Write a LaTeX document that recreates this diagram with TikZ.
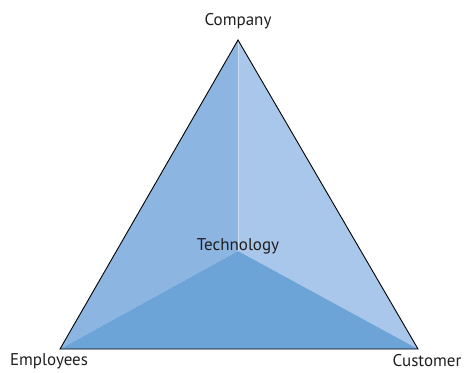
\documentclass[tikz,border=0pt]{standalone}
\usepackage{fontspec}
\setmainfont{PT Sans}
\begin{document}
\begin{tikzpicture}[x=1pt,y=-1pt,
  lbl/.style={font=\fontsize{17}{19}\selectfont, text=black!88, inner sep=0pt}]
\useasboundingbox (0,0) rectangle (465,372);
\definecolor{leftc}{HTML}{8CB5E1}
\definecolor{rightc}{HTML}{A9C7EA}
\definecolor{botc}{HTML}{6CA4D8}
\coordinate (A) at (238,40);
\coordinate (L) at (60,349);
\coordinate (R) at (418,349);
\coordinate (C) at (238,251);
\fill[leftc] (A) -- (C) -- (L) -- cycle;
\fill[rightc] (A) -- (R) -- (C) -- cycle;
\fill[botc] (L) -- (C) -- (R) -- cycle;
\draw[white!40!rightc, line width=0.5pt] (A) -- (C);
\draw[black, line width=0.9pt, line join=miter] (A) -- (L) -- (R) -- cycle;
\node[lbl] (company) at (238,21) {Company};
\node[lbl] (employees) at (49,361) {Employees};
\node[lbl] (customer) at (427,361) {Customer};
\node[lbl] (tech) at (238,246) {Technology};
\end{tikzpicture}
\end{document}
